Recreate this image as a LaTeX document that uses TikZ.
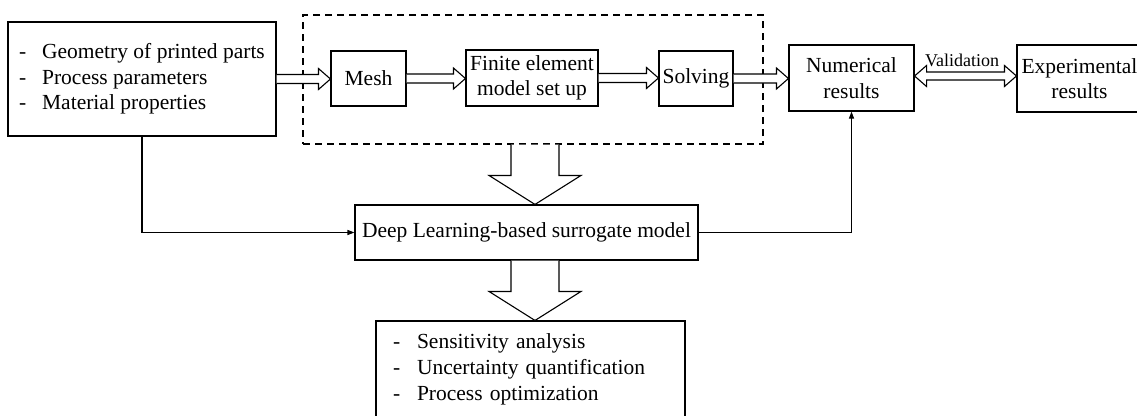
\documentclass[tikz,border=0pt]{standalone}
\usepackage{fontspec}
\setmainfont{Liberation Serif}
\usetikzlibrary{calc,arrows.meta}

\tikzset{
  box/.style={draw, line width=1.1pt, inner sep=0pt, align=center},
  grpbox/.style={draw, line width=1.1pt, dash pattern=on 7pt off 5pt},
  hollow/.style={draw, line width=1.1pt, fill=white, line join=miter},
  link/.style={line width=1.1pt, -{Triangle[length=7pt,width=5pt]}},
}

% hollow arrow pointing right between two nodes
\newcommand{\hollowright}[2]{%
  \draw[hollow] let \p1=(#1.east), \p2=(#2.west) in
    (\x1,\y1+4.5pt) -- (\x2-12pt,\y1+4.5pt) -- (\x2-12pt,\y1+10.5pt) -- (\x2,\y1)
    -- (\x2-12pt,\y1-10.5pt) -- (\x2-12pt,\y1-4.5pt) -- (\x1,\y1-4.5pt);}

% hollow arrow pointing down, centred on a given x
\newcommand{\hollowdown}[3]{%
  \draw[hollow] let \p1=(#2.south), \p2=(#3.north) in
    (#1pt-24pt,\y1) -- (#1pt-24pt,\y2+29pt) -- (#1pt-46pt,\y2+29pt) -- (#1pt,\y2)
    -- (#1pt+46pt,\y2+29pt) -- (#1pt+24pt,\y2+29pt) -- (#1pt+24pt,\y1);}

\begin{document}
\begin{tikzpicture}[x=1pt,y=-1pt,font=\fontsize{21.5}{25.5}\selectfont]
\useasboundingbox (0,0) rectangle (1137,415);
\clip (0,0) rectangle (1137,415);
\fill[white] (0,0) rectangle (1137,415);

% input data
\node[box, align=left, minimum width=268pt, minimum height=114pt]
  (inp) at (142,79)
  {\makebox[23pt][l]{-}Geometry of printed parts\\
   \makebox[23pt][l]{-}Process parameters\\
   \makebox[23pt][l]{-}Material properties};

% finite element simulation chain
\node[grpbox, minimum width=460pt, minimum height=129pt] (grp) at (533,79.5) {};
\node[box, minimum width=75pt, minimum height=55pt] (mesh) at (368.5,78.5) {Mesh};
\node[box, minimum width=132pt, minimum height=56pt] (fe) at (532,78) {Finite element\\model set up};
\node[box, minimum width=74pt, minimum height=55pt] (solve) at (696,78.5) {Solving};

% results
\node[box, minimum width=125pt, minimum height=66pt] (num) at (851.5,78) {Numerical\\results};
\node[box, minimum width=125pt, minimum height=67pt] (exp) at (1079.5,78.5) {Experimental\\results};

% surrogate model and its applications
\node[box, minimum width=343pt, minimum height=55pt] (dl) at (526.5,232.5) {Deep Learning-based surrogate model};
\node[box, align=left, text width=275pt, inner xsep=17pt, minimum height=96pt,
      font=\fontsize{21.5}{26}\selectfont]
  (app) at (530.5,369)
  {\makebox[24pt][l]{-}Sensitivity analysis\\
   \makebox[24pt][l]{-}Uncertainty quantification\\
   \makebox[24pt][l]{-}Process optimization};

% flow through the simulation chain
\hollowright{inp}{mesh}
\hollowright{mesh}{fe}
\hollowright{fe}{solve}
\hollowright{solve}{num}

% validation against experiments
\coordinate (va) at ($(num.east)+(0,-2)$);
\coordinate (vb) at ($(exp.west)+(0,-2)$);
\draw[hollow] let \p1=(va), \p2=(vb) in
  (\x1+12pt,\y1+4pt) -- (\x2-12pt,\y1+4pt) -- (\x2-12pt,\y1+10.5pt) -- (\x2,\y1)
  -- (\x2-12pt,\y1-10.5pt) -- (\x2-12pt,\y1-4pt) -- (\x1+12pt,\y1-4pt)
  -- (\x1+12pt,\y1-10.5pt) -- (\x1,\y1) -- (\x1+12pt,\y1+10.5pt) -- cycle;
\node[font=\fontsize{18}{20}\selectfont] (vlab) at (962,60) {Validation};

% surrogate training and use
\hollowdown{535}{grp}{dl}
\hollowdown{535}{dl}{app}

\draw[link] (inp.south) |- (dl.west);
\draw[link] (dl.east) -| (num.south);
\end{tikzpicture}
\end{document}
